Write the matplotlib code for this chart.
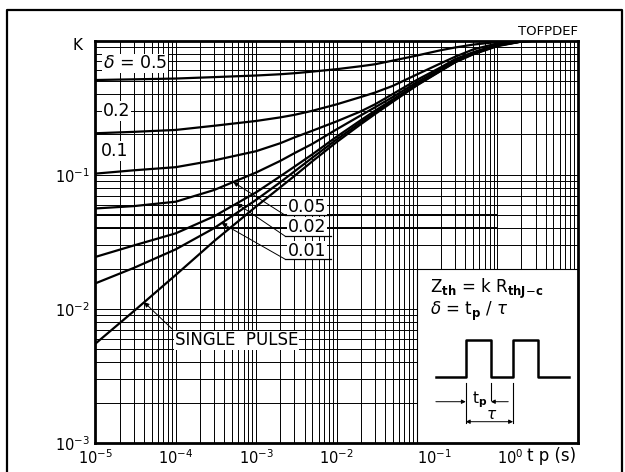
import numpy as np
import matplotlib
matplotlib.use('Agg')
import matplotlib.pyplot as plt
from matplotlib.patches import Rectangle
from matplotlib.lines import Line2D
from matplotlib.ticker import FixedLocator, LogLocator, NullFormatter

plt.rcParams['font.family'] = ['DejaVu Sans']
plt.rcParams['mathtext.fontset'] = 'dejavusans'

# pulse duration tp (s) and normalised thermal impedance K
tp = [1e-5, 3e-5, 1e-4, 3e-4, 1e-3, 2e-3, 3e-3, 5e-3, 1e-2, 2e-2, 3e-2, 5e-2,
      1e-1, 2e-1, 3e-1, 5e-1, 1, 2, 3]
k_d05 = [0.509, 0.515, 0.522, 0.535, 0.55, 0.562, 0.572, 0.588, 0.613, 0.645, 0.667, 0.71,
         0.775, 0.85, 0.89, 0.935, 0.978, 0.998, 1.0]
k_d02 = [0.204, 0.209, 0.216, 0.232, 0.252, 0.268, 0.28, 0.30, 0.335, 0.38, 0.41, 0.46,
         0.56, 0.68, 0.76, 0.86, 0.955, 0.995, 1.0]
k_d01 = [0.102, 0.108, 0.114, 0.128, 0.150, 0.172, 0.19, 0.213, 0.25, 0.297, 0.335, 0.40,
         0.51, 0.635, 0.73, 0.82, 0.935, 0.99, 1.0]
k_d005 = [0.0561, 0.0584, 0.063, 0.077, 0.104, 0.127, 0.145, 0.17, 0.218, 0.277, 0.318, 0.38,
          0.49, 0.617, 0.71, 0.808, 0.925, 0.988, 1.0]
k_d002 = [0.0244, 0.0297, 0.0366, 0.049, 0.074, 0.0975, 0.115, 0.142, 0.192, 0.255, 0.30, 0.364,
          0.475, 0.605, 0.70, 0.80, 0.92, 0.987, 1.0]
k_d001 = [0.0155, 0.0202, 0.0278, 0.040, 0.065, 0.088, 0.106, 0.134, 0.183, 0.246, 0.29, 0.356,
          0.468, 0.60, 0.695, 0.797, 0.917, 0.986, 1.0]
k_single = [0.0055, 0.0096, 0.0179, 0.032, 0.058, 0.0807, 0.098, 0.126, 0.175, 0.238, 0.283, 0.35,
            0.464, 0.597, 0.69, 0.79, 0.91, 0.985, 1.0]

x_ticks = [1e-5, 1e-4, 1e-3, 1e-2, 1e-1, 1e0]
x_labels = [r'$10^{-5}$', r'$10^{-4}$', r'$10^{-3}$', r'$10^{-2}$', r'$10^{-1}$', r'$10^{0}$']
y_ticks = [1e-3, 1e-2, 1e-1]
y_labels = [r'$10^{-3}$', r'$10^{-2}$', r'$10^{-1}$']


def on_curve(x, ks):
    return 10 ** np.interp(np.log10(x), np.log10(tp), np.log10(ks))


fig = plt.figure(figsize=(6.25, 4.72), dpi=100)
ax = fig.add_axes([0.1525, 0.0614, 0.7718, 0.8524])
ax.set_xscale('log')
ax.set_yscale('log')
ax.set_xlim(1e-5, 1e1)
ax.set_ylim(1e-3, 1)

ax.xaxis.set_major_locator(FixedLocator(x_ticks))
ax.xaxis.set_minor_locator(LogLocator(base=10, subs=np.arange(2, 10), numticks=30))
ax.xaxis.set_minor_formatter(NullFormatter())
ax.yaxis.set_major_locator(FixedLocator(y_ticks))
ax.yaxis.set_minor_locator(LogLocator(base=10, subs=np.arange(2, 10), numticks=30))
ax.yaxis.set_minor_formatter(NullFormatter())
ax.set_xticks(x_ticks, x_labels, fontsize=10.5)
ax.set_yticks(y_ticks, y_labels, fontsize=10.5)
for lbl in ax.get_xticklabels()[-2:]:
    lbl.set_horizontalalignment('left')
ax.tick_params(which='both', length=0)
ax.tick_params(axis='x', pad=4)
ax.tick_params(axis='y', pad=4)

ax.set_axisbelow(True)
ax.grid(which='both', color='k', lw=0.7)
ax.hlines([0.04, 0.05], 1e-5, 1, color='k', lw=1.4, zorder=0.6)
for s in ax.spines.values():
    s.set_linewidth(2)

# curves
for ks in [k_d05, k_d02, k_d01, k_d005, k_d002, k_d001, k_single]:
    ax.plot(tp, ks, color='k', lw=1.6, zorder=2, solid_capstyle='butt')

lbl_kw = dict(fontsize=12.5, va='center', ha='left', zorder=4,
              bbox=dict(facecolor='white', edgecolor='none', pad=0.5))
ax.text(1.25e-5, 0.676, r'$\delta$ = 0.5', **lbl_kw)
ax.text(1.25e-5, 0.299, '0.2', **lbl_kw)
ax.text(1.18e-5, 0.150, '0.1', **lbl_kw)

arrow_kw = dict(arrowstyle='-|>', color='k', lw=0.7, mutation_scale=7,
                shrinkA=0, shrinkB=0)
for name, ks, tip_x, txt_y, line_y in [('0.05', k_d005, 5.2e-4, 0.058, 0.05),
                                       ('0.02', k_d002, 5.74e-4, 0.0407, 0.0349),
                                       ('0.01', k_d001, 3.73e-4, 0.0272, 0.0235)]:
    ax.text(2.5e-3, txt_y, name, **lbl_kw)
    ax.plot([2.29e-3, 8.57e-3], [line_y, line_y], color='k', lw=0.9, zorder=4)
    ax.annotate('', xy=(tip_x, on_curve(tip_x, ks)), xytext=(2.29e-3, line_y),
                arrowprops=arrow_kw, zorder=4)

sp_kw = dict(lbl_kw)
sp_kw['fontsize'] = 12
ax.text(9.8e-5, 0.00584, 'SINGLE  PULSE', **sp_kw)
ax.annotate('', xy=(4.05e-5, on_curve(4.05e-5, k_single)), xytext=(8.9e-5, 0.00714),
            arrowprops=arrow_kw, zorder=4)

# inset box with definitions
ax.add_patch(Rectangle((0.1, 1e-3), 9.9, 0.019, facecolor='white', edgecolor='k',
                       lw=0.8, zorder=1))
ta = ax.transAxes
ax.text(0.694, 0.383, r'Z$_\mathbf{th}$ = k R$_{\mathbf{thJ}\!-\!\mathbf{c}}$',
        transform=ta, fontsize=12, va='center', ha='left')
ax.text(0.694, 0.328, r'$\delta$ = t$_\mathbf{p}$ / $\tau$',
        transform=ta, fontsize=12, va='center', ha='left')
wave_x = [0.706, 0.768, 0.768, 0.820, 0.820, 0.866, 0.866, 0.918, 0.918, 0.981]
wave_y = [0.165, 0.165, 0.256, 0.256, 0.165, 0.165, 0.256, 0.256, 0.165, 0.165]
ax.plot(wave_x, wave_y, color='k', lw=1.8, transform=ta, zorder=3)
dim_kw = dict(color='k', lw=0.8, transform=ta, zorder=3)
ax.plot([0.768, 0.768], [0.149, 0.0497], **dim_kw)
ax.plot([0.820, 0.820], [0.149, 0.107], **dim_kw)
ax.plot([0.866, 0.866], [0.149, 0.0497], **dim_kw)
small_arrow = dict(arrowstyle='-|>', color='k', lw=0.7, mutation_scale=6,
                   shrinkA=0, shrinkB=0)
ax.annotate('', xy=(0.768, 0.1027), xytext=(0.706, 0.1027), xycoords=ta,
            arrowprops=small_arrow)
ax.annotate('', xy=(0.820, 0.1027), xytext=(0.856, 0.1027), xycoords=ta,
            arrowprops=small_arrow)
ax.annotate('', xy=(0.866, 0.053), xytext=(0.768, 0.053), xycoords=ta,
            arrowprops=dict(arrowstyle='<|-|>', color='k', lw=0.7, mutation_scale=6,
                            shrinkA=0, shrinkB=0))
ax.text(0.7975, 0.107, r't$_\mathbf{p}$', transform=ta, fontsize=11,
        ha='center', va='center')
ax.text(0.821, 0.072, r'$\tau$', transform=ta, fontsize=11, ha='center', va='center')

# axis captions
ax.text(-0.036, 0.989, 'K', transform=ta, fontsize=11, ha='center', va='center')
ax.text(1.0, 1.022, 'TOFPDEF', transform=ta, fontsize=9.5, ha='right', va='center')
ax.text(0.895, -0.032, 't p (s)', transform=ta, fontsize=12, ha='left', va='center')

# outer drawing frame
fig.add_artist(Line2D([0.0117, 0.0117, 0.9947, 0.9947], [0, 0.9788, 0.9788, 0],
                      transform=fig.transFigure, color='k', lw=1.6))

fig.savefig('out.png', dpi=100)
